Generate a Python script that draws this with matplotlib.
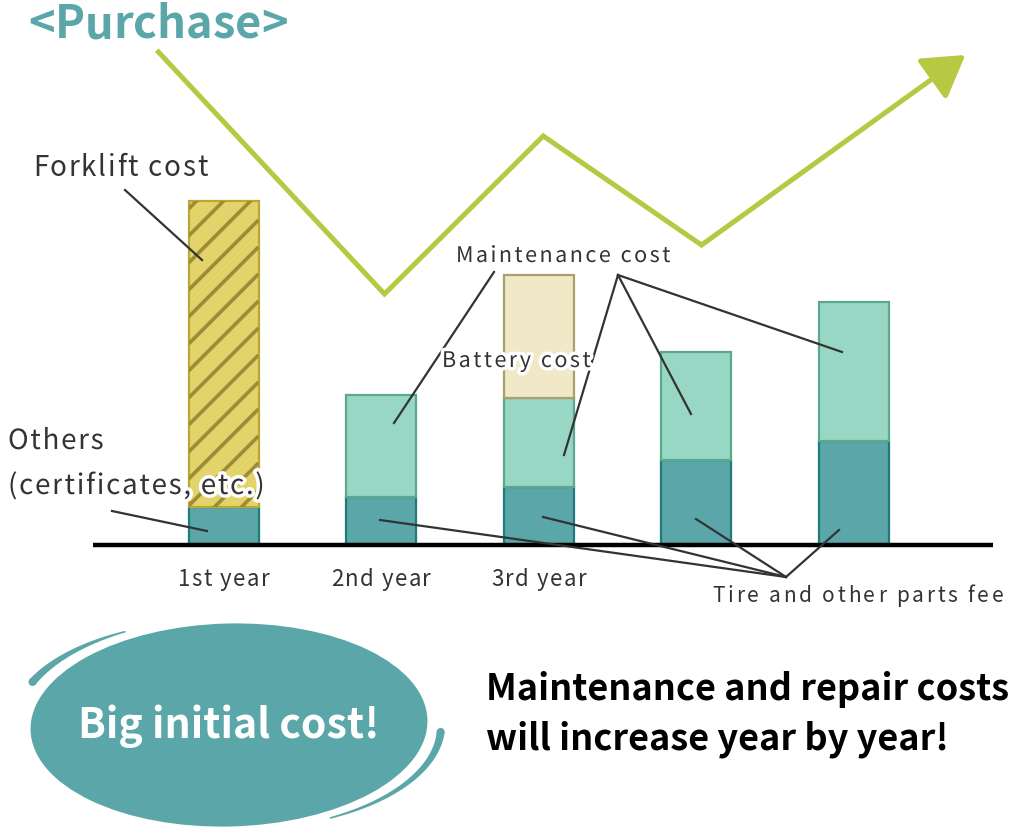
import matplotlib
matplotlib.use("Agg")
import matplotlib.pyplot as plt
import matplotlib.patheffects as pe
from matplotlib.patches import Ellipse, Polygon, Circle
import numpy as np

# ---------------- data ----------------
year_labels = ["1st year", "2nd year", "3rd year"]
n_bars = 5
tire_others = [38, 48, 58, 85, 104]      # bottom segment (Others / Tire & parts)
maintenance = [0, 102, 89, 108, 139]     # maintenance cost
battery = [0, 0, 123, 0, 0]              # battery cost
forklift = [306, 0, 0, 0, 0]             # forklift purchase cost
# "Purchase" trend line (decorative), x in bar-index units, y in value units
trend_x = [-0.413, 1.022, 2.03, 3.035, 4.71]
trend_y = [493, 251, 409, 300, 490]

# ---------------- styles ----------------
FONT = ["Noto Sans CJK JP", "DejaVu Sans"]
plt.rcParams["font.family"] = FONT
TEAL = "#5ba6a8"
TEAL_EDGE = "#1d7c7a"
MINT = "#98d7c4"
MINT_EDGE = "#5aa890"
BATT = "#f0e8c7"
BATT_EDGE = "#a9a06c"
FORK = "#e2d46b"
FORK_EDGE = "#b9a833"
HATCH = "#9d8b36"
LIME = "#b7c842"
INK = "#333333"

W, H = 1014, 834
fig = plt.figure(figsize=(W / 100, H / 100), dpi=100)
renderer = fig.canvas.get_renderer()

# main chart axes: index units in x, value units in y (1 unit = 1 px)
x0_px, pitch, base_px = 223.5, 157.5, 545
ax = fig.add_axes([0, 0, 1, 1])
ax.set_xlim(-x0_px / pitch, (W - x0_px) / pitch)
ax.set_ylim(base_px - H, base_px)
ax.axis("off")

x = np.arange(n_bars)
bw = 70 / pitch
b1 = ax.bar(x, tire_others, bw, color=TEAL, edgecolor=TEAL_EDGE, linewidth=1.6, zorder=2)
bottom2 = np.array(tire_others)
b2 = ax.bar(x, maintenance, bw, bottom=bottom2, color=MINT, edgecolor=MINT_EDGE,
            linewidth=1.6, zorder=2)
bottom3 = bottom2 + np.array(maintenance)
b3 = ax.bar(x, battery, bw, bottom=bottom3, color=BATT, edgecolor=BATT_EDGE,
            linewidth=1.6, zorder=2)
for cont, vals in ((b2, maintenance), (b3, battery)):
    for p, v in zip(cont.patches, vals):
        p.set_visible(v > 0)
bottom4 = bottom3 + np.array(battery)
b4 = ax.bar(x, forklift, bw, bottom=bottom4, color=FORK, edgecolor=FORK_EDGE,
            linewidth=1.6, zorder=3)
for p, v in zip(b4.patches, forklift):
    p.set_visible(v > 0)
    if v > 0:
        # wide diagonal hatch, clipped to the bar
        left = p.get_x()
        right = left + p.get_width()
        ybot = p.get_y()
        ytop = ybot + p.get_height()
        xs = np.array([left, right])
        for off in np.arange(ybot - 80, ytop + 10, 27):
            ys = off + (xs - left) * pitch
            ln, = ax.plot(xs, ys, color=HATCH, lw=2.6, zorder=3.5, solid_capstyle="butt")
            ln.set_clip_path(p)

# trend line with arrow head at the end
tip = np.array([trend_x[-1], trend_y[-1]])
prev = np.array([trend_x[-2], trend_y[-2]])
d_px = np.array([(tip[0] - prev[0]) * pitch, tip[1] - prev[1]])
u = d_px / np.hypot(*d_px)
back = lambda dist: (tip[0] - u[0] * dist / pitch, tip[1] - u[1] * dist)
lx, ly = back(14)
ax.plot(trend_x[:-1] + [lx], trend_y[:-1] + [ly], color=LIME, lw=3.6, zorder=1,
        solid_joinstyle="miter")
ax.annotate("", xy=tuple(tip), xytext=back(26),
            arrowprops=dict(arrowstyle="-|>,head_length=0.9,head_width=0.55",
                            color=LIME, lw=3.6, shrinkA=0, shrinkB=0,
                            mutation_scale=28),
            zorder=1)

# ---------------- overlay (pixel coords) ----------------
ov = fig.add_axes([0, 0, 1, 1], zorder=5)
ov.set_xlim(0, W)
ov.set_ylim(H, 0)
ov.axis("off")
ov.patch.set_alpha(0)


def tracked_text(axis, x, y, s, tracking, ha="left", **kw):
    """Draw text with extra letter spacing (tracking in px)."""
    tmp = axis.text(0, 0, "", **kw)

    def width(t):
        tmp.set_text(t)
        return tmp.get_window_extent(renderer).width

    ref = width("|")
    adv = [width(s[:k] + "|") - ref for k in range(len(s) + 1)]
    tmp.remove()
    total = adv[len(s)] + tracking * (len(s) - 1)
    start = x - total / 2 if ha == "center" else x
    for k, ch in enumerate(s):
        if ch != " ":
            axis.text(start + adv[k] + k * tracking, y, ch, ha="left",
                      va="baseline", **kw)


# year labels (position from the bar axis scale)
to_ov = ax.transData + ov.transData.inverted()
for i, lab in enumerate(year_labels):
    px, py = to_ov.transform((x[i], base_px - 586))
    tracked_text(ov, px, py, lab, 1.5, ha="center", fontsize=16, color=INK)

# baseline
ov.plot([93, 993], [545, 545], color="black", lw=3.2, solid_capstyle="butt", zorder=4)

# leader lines
leaders = [
    [(125, 190), (202, 260)],
    [(112, 511), (207, 531)],
    [(494, 272), (394, 423)],
    [(618, 275), (564, 455)],
    [(618, 275), (691, 414)],
    [(618, 275), (842, 352)],
    [(786, 577), (380, 520)],
    [(786, 577), (543, 517)],
    [(786, 577), (696, 519)],
    [(786, 577), (839, 530)],
]
for (xa, ya), (xb, yb) in leaders:
    ov.plot([xa, xb], [ya, yb], color=INK, lw=1.6, zorder=6)

white_stroke = [pe.withStroke(linewidth=5, foreground="white")]

tracked_text(ov, 28, 38, "<Purchase>", 0.0, fontsize=32.5, fontweight="bold", color=TEAL)
tracked_text(ov, 33, 176, "Forklift cost", 1.7, fontsize=20, color=INK)
tracked_text(ov, 8, 449, "Others", 1.7, fontsize=20, color=INK, path_effects=white_stroke)
tracked_text(ov, 8, 494, "(certificates, etc.)", 1.7, fontsize=20, color=INK,
             path_effects=white_stroke, zorder=7)
tracked_text(ov, 456, 262, "Maintenance cost", 2.5, fontsize=15.5, color=INK,
             path_effects=white_stroke)
tracked_text(ov, 442, 367, "Battery cost", 2.5, fontsize=15.5, color=INK,
             path_effects=white_stroke, zorder=7)
tracked_text(ov, 712, 602, "Tire and other parts fee", 2.8, fontsize=15, color=INK)

# callout ellipse with two tapered swoosh arcs
ov.add_patch(Ellipse((229, 725), 397, 203, angle=-1.5, facecolor=TEAL,
                     edgecolor="none", zorder=3))


def swoosh(centre, a, b, t1, t2, w_thick, w_thin):
    t = np.radians(np.linspace(t1, t2, 80))
    cx, cy = centre
    P = np.column_stack([cx + a * np.cos(t), cy + b * np.sin(t)])
    T = np.column_stack([-a * np.sin(t), b * np.cos(t)])
    T /= np.hypot(T[:, 0], T[:, 1])[:, None]
    N = np.column_stack([T[:, 1], -T[:, 0]])
    w = np.linspace(w_thick, w_thin, len(t))[:, None]
    poly = np.vstack([P + N * w, (P - N * w)[::-1]])
    ov.add_patch(Polygon(poly, closed=True, facecolor=TEAL, edgecolor="none", zorder=3))
    ov.add_patch(Circle(P[0], w_thick, facecolor=TEAL, edgecolor="none", zorder=3))
    ov.add_patch(Circle(P[-1], w_thin, facecolor=TEAL, edgecolor="none", zorder=3))


swoosh((225, 724), 210, 105, 203.6, 241.5, 4.0, 0.8)
swoosh((233, 726), 208, 104, 3.3, 62.0, 4.0, 0.8)

ov.text(229, 738, "Big initial cost!", fontsize=29.5, fontweight="bold", color="white",
        ha="center", va="baseline", zorder=8)

ov.text(486, 700, "Maintenance and repair costs", fontsize=26, fontweight="bold",
        color="black", va="baseline")
ov.text(486, 750, "will increase year by year!", fontsize=26, fontweight="bold",
        color="black", va="baseline")

fig.savefig("out.png", dpi=100)
